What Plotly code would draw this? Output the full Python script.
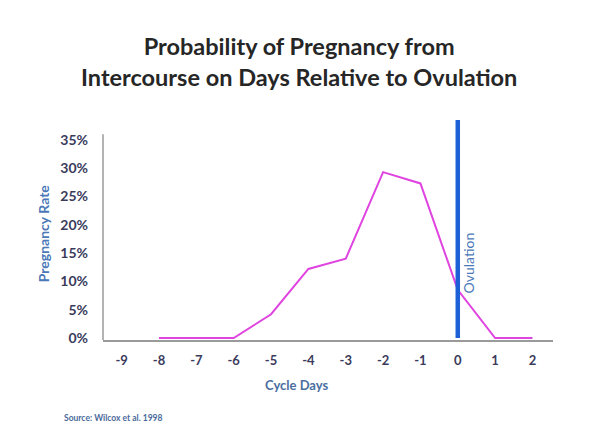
import plotly.graph_objects as go

days = [-8, -7, -6, -5, -4, -3, -2, -1, 0, 1, 2]
rates = [0, 0, 0, 0.042, 0.122, 0.14, 0.293, 0.273, 0.085, 0, 0]
tick_days = [-9, -8, -7, -6, -5, -4, -3, -2, -1, 0, 1, 2]
tick_labels = [str(d) for d in tick_days]
y_ticks = [0, 0.05, 0.10, 0.15, 0.20, 0.25, 0.30, 0.35]
y_tick_labels = ["0%", "5%", "10%", "15%", "20%", "25%", "30%", "35%"]
ovulation_day = 0
ovulation_top = 0.385

fig = go.Figure()
fig.add_trace(go.Scatter(x=days, y=rates, mode="lines",
                         line=dict(color="#e044e0", width=2), showlegend=False))
fig.add_trace(go.Scatter(x=[ovulation_day, ovulation_day], y=[0, ovulation_top], mode="lines",
                         line=dict(color="#1c5fd6", width=4.5), showlegend=False))

# y axis line (stops at ~36%)
fig.add_shape(type="line", xref="paper", yref="y", x0=0, x1=0, y0=-0.0035, y1=0.36,
              line=dict(color="#9a9a9a", width=1.5), layer="below")

fig.update_layout(
    width=594, height=427,
    margin=dict(l=95, r=49, t=112, b=95),
    paper_bgcolor="white", plot_bgcolor="white",
    font=dict(family="Lato, Open Sans, sans-serif"),
    xaxis=dict(range=[-9.5, 2.55], tickmode="array", tickvals=tick_days, ticktext=tick_labels,
               showgrid=False, zeroline=False, showline=True, linecolor="#9a9a9a", linewidth=1.5,
               ticks="", ticklabelstandoff=8, automargin=False, layer="below traces",
               tickfont=dict(size=13, color="#3b3b5c", weight="bold")),
    yaxis=dict(range=[-0.0035, ovulation_top], tickmode="array", tickvals=y_ticks, ticktext=y_tick_labels,
               showgrid=False, zeroline=False, showline=False,
               ticks="", ticklabelstandoff=14, automargin=False, layer="below traces",
               tickfont=dict(size=14, color="#3b3b5c", weight="bold")),
    annotations=[
        dict(text="<b>Probability of Pregnancy from<br>Intercourse on Days Relative to Ovulation</b>",
             xref="paper", yref="paper", x=0.436, y=1.264, xanchor="center", yanchor="middle",
             showarrow=False, font=dict(size=23.5, color="#262626"), align="center"),
        dict(text="<b>Pregnancy Rate</b>", xref="paper", yref="paper", x=-0.133, y=0.486,
             xanchor="center", yanchor="middle",
             textangle=-90, showarrow=False, font=dict(size=14, color="#4a78b8")),
        dict(text="<b>Cycle Days</b>", xref="paper", yref="paper", x=0.43, y=-0.205,
             xanchor="center", yanchor="middle",
             showarrow=False, font=dict(size=13, color="#4a6fa0")),
        dict(text="<b>Source: Wilcox et al. 1998</b>", xref="paper", yref="paper", x=-0.091, y=-0.3545,
             xanchor="left", yanchor="middle", showarrow=False, font=dict(size=8.5, color="#4a6a9a")),
        dict(text="Ovulation", x=ovulation_day, y=0.133, xref="x", yref="y", xshift=11,
             xanchor="center", yanchor="middle",
             textangle=-90, showarrow=False, font=dict(size=14, color="#4a78b8")),
    ],
)

fig.write_html("out.html")
